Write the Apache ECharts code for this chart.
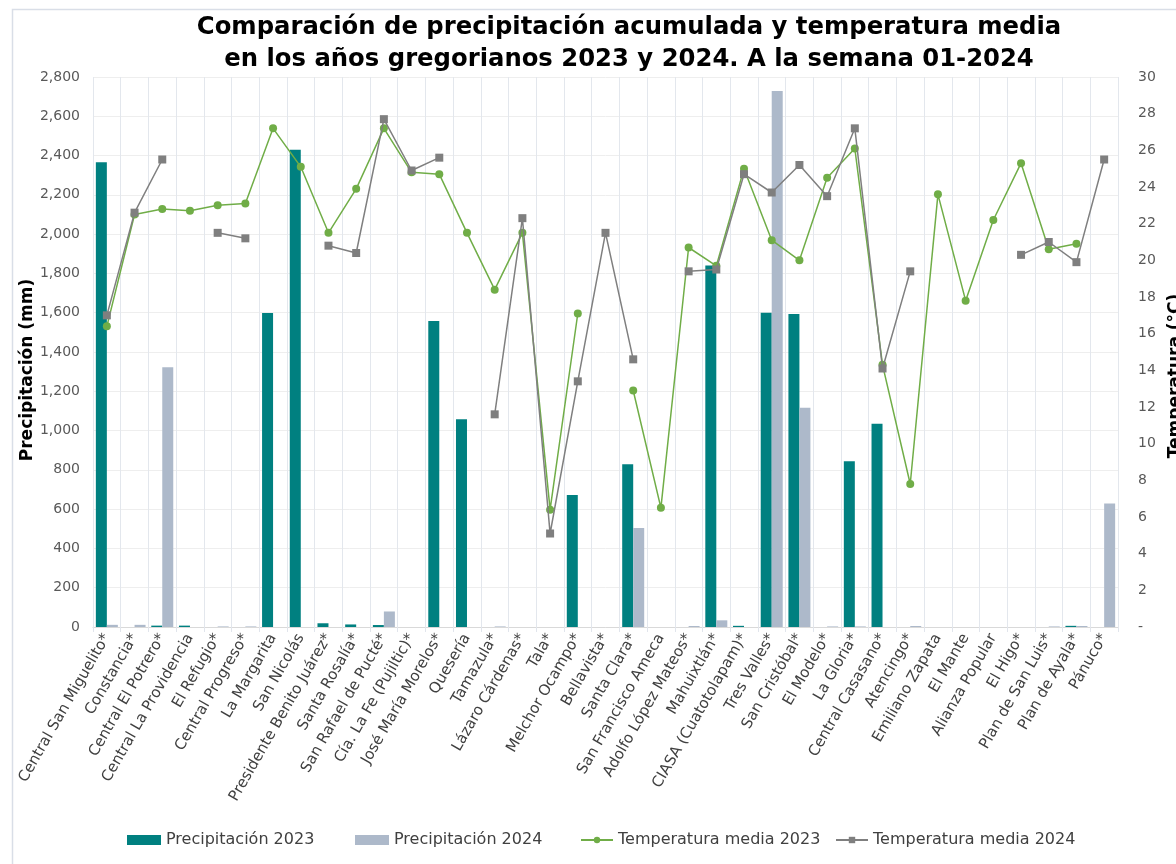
<!DOCTYPE html>
<html>
<head>
<meta charset="utf-8">
<script src="https://cdn.jsdelivr.net/npm/echarts@6/dist/echarts.min.js"></script>
<style>
html,body{margin:0;padding:0;background:#fff;}
#chart{width:1176px;height:864px;}
</style>
</head>
<body>
<div id="chart"></div>
<script>
const categories = [
  "Central San Miguelito*", "Constancia*", "Central El Potrero*", "Central La Providencia",
  "El Refugio*", "Central Progreso*", "La Margarita", "San Nicolás",
  "Presidente Benito Juárez*", "Santa Rosalía*", "San Rafael de Pucté*", "Cía. La Fe (Pujiltic)*",
  "José María Morelos*", "Quesería", "Tamazula*", "Lázaro Cárdenas*", "Tala*",
  "Melchor Ocampo*", "Bellavista*", "Santa Clara*", "San Francisco Ameca",
  "Adolfo López Mateos*", "Mahuixtlán*", "CIASA (Cuatotolapam)*", "Tres Valles*",
  "San Cristóbal*", "El Modelo*", "La Gloria*", "Central Casasano*", "Atencingo*",
  "Emiliano Zapata", "El Mante", "Alianza Popular", "El Higo*", "Plan de San Luis*",
  "Plan de Ayala*", "Pánuco*"
];

const precip2023 = [
  2366, 0, 7, 7, 0, 0, 1599, 2430, 19, 13, 10, 0, 1558, 1058, 0, 0, 0,
  672, 0, 829, 0, 0, 1841, 6, 1600, 1594, 0, 844, 1035, 0,
  0, 0, 0, 0, 0, 6, 0
];

const precip2024 = [
  11, 11, 1323, 0, 3, 3, 0, 0, 0, 0, 79, 0, 0, 0, 3, 0, 0,
  0, 0, 504, 0, 5, 34, 0, 2729, 1116, 3, 3, 0, 5,
  0, 0, 0, 0, 3, 5, 629
];

const temp2023 = [
  16.4, 22.5, 22.8, 22.7, 23.0, 23.1, 27.2, 25.1, 21.5, 23.9, 27.2, 24.8,
  24.7, 21.5, 18.4, 21.5, 6.4, 17.1, null, 12.9, 6.5, 20.7, 19.7, 25.0,
  21.1, 20.0, 24.5, 26.1, 14.3, 7.8, 23.6, 17.8, 22.2, 25.3, 20.6, 20.9, null
];

const temp2024 = [
  17.0, 22.6, 25.5, null, 21.5, 21.2, null, null, 20.8, 20.4, 27.7, 24.9,
  25.6, null, 11.6, 22.3, 5.1, 13.4, 21.5, 14.6, null, 19.4, 19.5, 24.7,
  23.7, 25.2, 23.5, 27.2, 14.1, 19.4, null, null, null, 20.3, 21.0, 19.9, 25.5
];

const seriesNames = ['Precipitación 2023', 'Precipitación 2024', 'Temperatura media 2023', 'Temperatura media 2024'];

const precipTicks = { min: 0, max: 2800, interval: 200 };
const tempTicks = { min: 0, max: 30, interval: 2 };

const FONT = "DejaVu Sans";
const chart = echarts.init(document.getElementById('chart'), null, { renderer: 'canvas' });

const legendLefts = [127, 355, 580, 835];
const legends = seriesNames.map((name, i) => ({
  data: [name],
  left: legendLefts[i],
  top: 832,
  padding: 0,
  itemWidth: i < 2 ? 34 : 32,
  itemHeight: i < 2 ? 10 : 8,
  icon: i < 2 ? 'rect' : undefined,
  textStyle: { fontFamily: FONT, fontSize: 16, color: '#404040' }
}));

chart.setOption({
  backgroundColor: '#ffffff',
  animation: false,
  textStyle: { fontFamily: FONT },
  title: {
    text: 'Comparación de precipitación acumulada y temperatura media\nen los años gregorianos 2023 y 2024. A la semana 01-2024',
    left: 624,
    top: 7,
    textAlign: 'center',
    textStyle: { fontFamily: FONT, fontSize: 24.3, fontWeight: 'bold', color: '#000000', lineHeight: 32 }
  },
  graphic: [
    {
      type: 'rect', left: 10, top: 7, silent: true, z: -10,
      shape: { width: 1200, height: 900 },
      style: { fill: 'none', stroke: '#D9DEE7', lineWidth: 1.5 }
    },
    {
      type: 'text', x: 28, y: 370, rotation: Math.PI / 2,
      style: { text: 'Precipitación (mm)', fontFamily: FONT, fontSize: 17, fontWeight: 'bold', fill: '#000', align: 'center', verticalAlign: 'middle' }
    },
    {
      type: 'text', x: 1176, y: 376, rotation: Math.PI / 2,
      style: { text: 'Temperatura (°C)', fontFamily: FONT, fontSize: 17, fontWeight: 'bold', fill: '#000', align: 'center', verticalAlign: 'middle' }
    }
  ],
  legend: legends,
  grid: { left: 93, right: 58, top: 77, bottom: 237, containLabel: false },
  xAxis: {
    type: 'category',
    data: categories,
    boundaryGap: true,
    axisLine: { show: true, lineStyle: { color: '#D9D9D9', width: 1 } },
    axisTick: { show: true, alignWithLabel: false, length: 5, lineStyle: { color: '#E1E5EC' } },
    splitLine: { show: true, interval: 0, lineStyle: { color: '#E3E7ED', width: 1 } },
    axisLabel: { interval: 0, rotate: 60, margin: 8, fontFamily: FONT, fontSize: 15, color: '#404040' }
  },
  yAxis: [
    {
      type: 'value',
      min: precipTicks.min, max: precipTicks.max, interval: precipTicks.interval,
      axisLine: { show: false },
      axisTick: { show: false },
      splitLine: { show: true, lineStyle: { color: '#EEEEEE', width: 1 } },
      axisLabel: {
        margin: 13, fontFamily: FONT, fontSize: 14, color: '#595959',
        formatter: v => v.toLocaleString('en-US')
      }
    },
    {
      type: 'value',
      min: tempTicks.min, max: tempTicks.max, interval: tempTicks.interval,
      position: 'right',
      axisLine: { show: false },
      axisTick: { show: false },
      splitLine: { show: false },
      axisLabel: {
        margin: 20, fontFamily: FONT, fontSize: 14, color: '#595959',
        formatter: v => (v === 0 ? '-' : String(v))
      }
    }
  ],
  series: [
    {
      name: seriesNames[0], type: 'bar', yAxisIndex: 0,
      data: precip2023, barWidth: 11, barGap: '0%',
      itemStyle: { color: '#008080' }
    },
    {
      name: seriesNames[1], type: 'bar', yAxisIndex: 0,
      data: precip2024, barWidth: 11, barGap: '0%',
      itemStyle: { color: '#ADB9CA' }
    },
    {
      name: seriesNames[2], type: 'line', yAxisIndex: 1,
      data: temp2023, connectNulls: false, showSymbol: true, showAllSymbol: true,
      symbol: 'circle', symbolSize: 8,
      lineStyle: { color: '#70AD47', width: 1.5 },
      itemStyle: { color: '#70AD47' }, z: 3
    },
    {
      name: seriesNames[3], type: 'line', yAxisIndex: 1,
      data: temp2024, connectNulls: false, showSymbol: true, showAllSymbol: true,
      symbol: 'rect', symbolSize: 8,
      lineStyle: { color: '#7F7F7F', width: 1.5 },
      itemStyle: { color: '#7F7F7F' }, z: 4
    }
  ]
});
</script>
</body>
</html>
